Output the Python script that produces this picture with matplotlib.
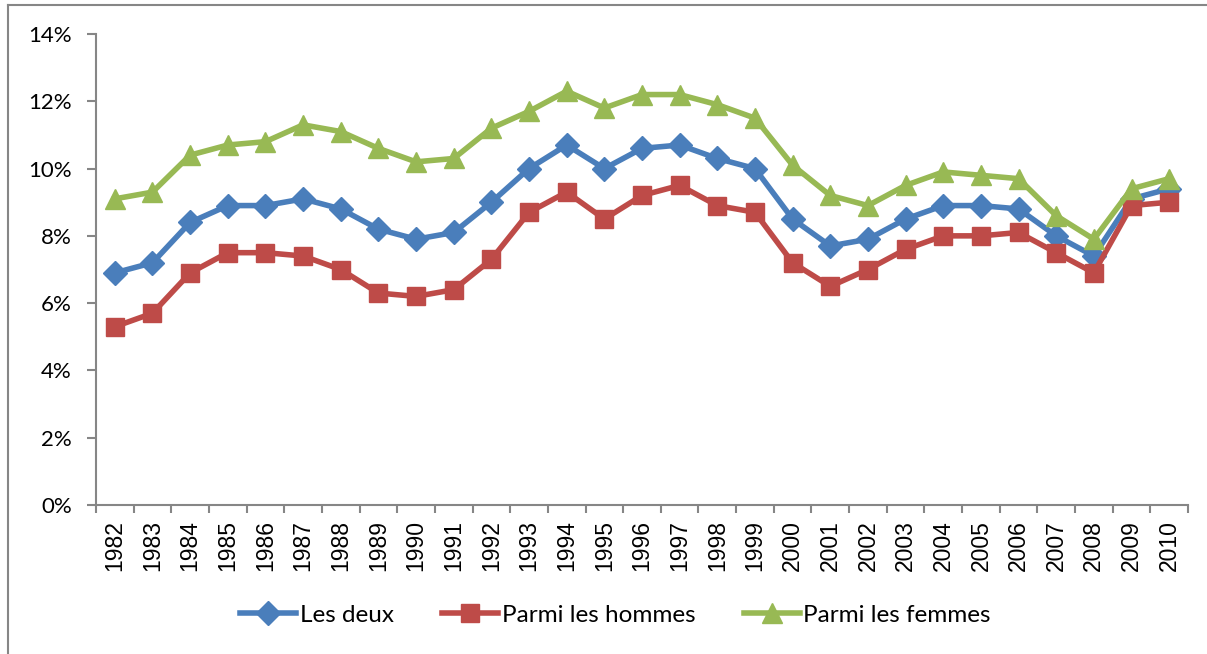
import matplotlib
matplotlib.use("Agg")
import matplotlib.pyplot as plt
from matplotlib.ticker import FixedLocator, FuncFormatter
from matplotlib.lines import Line2D

years = [str(y) for y in range(1982, 2011)]
les_deux = [6.9, 7.2, 8.4, 8.9, 8.9, 9.1, 8.8, 8.2, 7.9, 8.1, 9.0, 10.0, 10.7, 10.0, 10.6,
            10.7, 10.3, 10.0, 8.5, 7.7, 7.9, 8.5, 8.9, 8.9, 8.8, 8.0, 7.4, 9.1, 9.4]
hommes = [5.3, 5.7, 6.9, 7.5, 7.5, 7.4, 7.0, 6.3, 6.2, 6.4, 7.3, 8.7, 9.3, 8.5, 9.2,
          9.5, 8.9, 8.7, 7.2, 6.5, 7.0, 7.6, 8.0, 8.0, 8.1, 7.5, 6.9, 8.9, 9.0]
femmes = [9.1, 9.3, 10.4, 10.7, 10.8, 11.3, 11.1, 10.6, 10.2, 10.3, 11.2, 11.7, 12.3, 11.8, 12.2,
          12.2, 11.9, 11.5, 10.1, 9.2, 8.9, 9.5, 9.9, 9.8, 9.7, 8.6, 7.9, 9.4, 9.7]
series_names = ["Les deux", "Parmi les hommes", "Parmi les femmes"]
y_ticks = [0, 2, 4, 6, 8, 10, 12, 14]

W, H = 1207, 654
fig = plt.figure(figsize=(W / 100, H / 100), dpi=100)
fig.patch.set_facecolor("white")

# outer frame (top and left visible)
fig.add_artist(Line2D([8 / W, 8 / W], [0, 1 - 5 / H], color="#868686", lw=1.5, transform=fig.transFigure))
fig.add_artist(Line2D([8 / W, 1], [1 - 5 / H, 1 - 5 / H], color="#868686", lw=1.5, transform=fig.transFigure))

ax = fig.add_axes([96 / W, 1 - 505 / H, (1188 - 96) / W, (505 - 34) / H])

x = list(range(len(years)))
blue, red, green = "#4A7EBB", "#BE4B48", "#98B954"
ax.plot(x, les_deux, color=blue, lw=4, marker="D", ms=12, mec=blue, mfc=blue, label=series_names[0], zorder=3)
ax.plot(x, hommes, color=red, lw=4, marker="s", ms=13, mec=red, mfc=red, label=series_names[1], zorder=3)
ax.plot(x, femmes, color=green, lw=4, marker="^", ms=15, mec=green, mfc=green, label=series_names[2], zorder=3)

ax.set_xlim(-0.5, len(years) - 0.5)
ax.set_ylim(0, 14)
ax.yaxis.set_major_locator(FixedLocator(y_ticks))
ax.yaxis.set_major_formatter(FuncFormatter(lambda v, p: f"{v:.0f}%"))
ax.set_xticks(x)
ax.set_xticklabels(years, rotation=90, fontfamily="Liberation Sans", fontsize=16.5)
ax.xaxis.set_minor_locator(FixedLocator([i - 0.5 for i in range(len(years) + 1)]))
ax.tick_params(axis="x", which="major", length=0, pad=11)
ax.tick_params(axis="x", which="minor", length=6, color="#868686", width=1.5)
ax.tick_params(axis="y", length=6.5, color="#868686", width=1.5, pad=11)
for lbl in ax.get_yticklabels():
    lbl.set_fontfamily("Lato")
    lbl.set_fontsize(16)

for s in ["top", "right"]:
    ax.spines[s].set_visible(False)
for s in ["left", "bottom"]:
    ax.spines[s].set_color("#868686")
    ax.spines[s].set_linewidth(1.5)

leg = fig.legend(loc="center", bbox_to_anchor=(615.5 / W, 1 - 615 / H), ncol=3, frameon=False,
                 prop={"family": "Lato", "size": 17.5}, handlelength=2.3, handletextpad=0.15,
                 columnspacing=2.0)

fig.savefig("out.png", dpi=100)
